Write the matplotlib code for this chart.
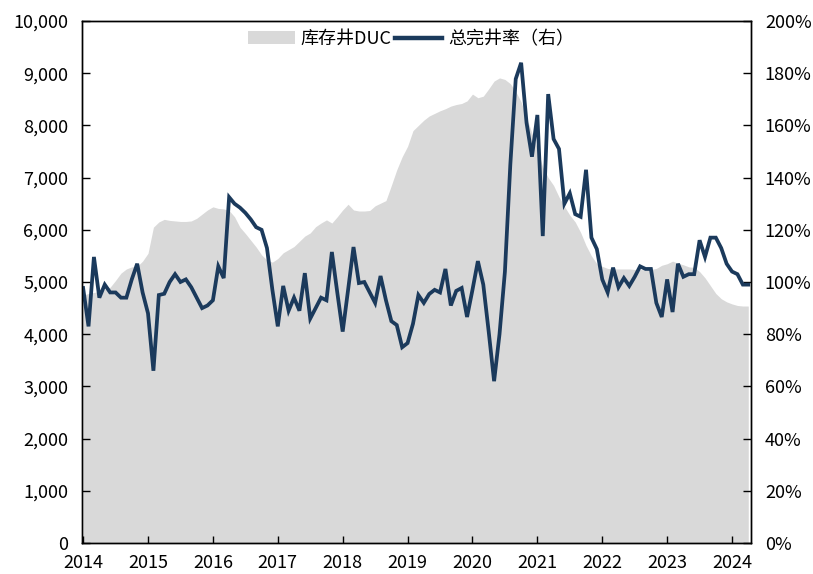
import numpy as np
import pandas as pd
import matplotlib
matplotlib.use("Agg")
import matplotlib.pyplot as plt
from matplotlib.patches import Patch
from matplotlib.lines import Line2D

plt.rcParams['font.family'] = ['Noto Sans CJK SC', 'DejaVu Sans']

# Monthly data, Jan 2014 - Apr 2024
months = pd.date_range("2014-01-01", "2024-04-01", freq="MS")

# DUC inventory (wells), left axis
duc = [
    4750, 4780, 4800, 4820, 4860, 4900, 5030, 5170, 5250, 5290, 5300, 5400,   # 2014
    5550, 6050, 6150, 6200, 6180, 6170, 6160, 6160, 6170, 6220, 6300, 6380,   # 2015
    6440, 6410, 6400, 6370, 6250, 6050, 5930, 5800, 5670, 5520, 5420, 5380,   # 2016
    5450, 5560, 5620, 5680, 5780, 5880, 5940, 6060, 6130, 6190, 6130, 6250,   # 2017
    6380, 6490, 6380, 6360, 6360, 6370, 6460, 6510, 6560, 6850, 7150, 7400,   # 2018
    7600, 7900, 8000, 8100, 8180, 8230, 8280, 8320, 8370, 8400, 8420, 8470,   # 2019
    8600, 8530, 8560, 8700, 8850, 8910, 8880, 8800, 8650, 8450, 8150, 7850,   # 2020
    7550, 7200, 7000, 6850, 6630, 6450, 6280, 6150, 5950, 5700, 5500, 5350,   # 2021
    5300, 5260, 5250, 5250, 5250, 5250, 5240, 5240, 5230, 5240, 5260, 5320,   # 2022
    5350, 5400, 5360, 5330, 5290, 5280, 5200, 5080, 4930, 4780, 4680, 4620,   # 2023
    4580, 4550, 4540, 4540,                                                   # 2024
]

# total completion ratio (%), right axis
completion = [
    97.7, 83.0, 109.6, 94.0, 99.0, 96.0, 96.0, 94.0, 94.0, 101.0, 107.0, 96.0,
    88.0, 66.0, 95.0, 95.5, 100.0, 103.0, 100.0, 101.0, 98.0, 94.0, 90.0, 91.0,
    93.0, 106.0, 101.5, 132.5, 130.0, 128.5, 126.5, 124.0, 121.0, 120.0, 113.0, 97.0,
    83.0, 98.5, 89.0, 94.0, 89.0, 103.4, 86.0, 90.0, 94.0, 93.0, 111.5, 96.0,
    81.0, 97.0, 113.4, 99.6, 100.0, 96.0, 92.0, 102.3, 93.0, 85.0, 83.5, 75.0,
    76.6, 84.0, 95.0, 92.0, 95.4, 97.0, 96.0, 105.0, 91.0, 96.6, 97.7, 86.6,
    97.0, 108.0, 99.0, 81.0, 62.0, 80.0, 104.0, 145.0, 177.8, 184.0, 161.0, 148.0,
    164.0, 117.6, 172.0, 154.8, 151.0, 130.0, 134.0, 126.0, 125.0, 143.0, 117.0, 112.6,
    101.0, 96.0, 105.5, 98.0, 101.5, 98.5, 102.0, 106.0, 105.0, 105.0, 92.0, 86.6,
    101.0, 88.5, 107.0, 102.0, 103.0, 103.0, 116.0, 109.6, 117.0, 117.0, 113.0, 107.0,
    104.0, 103.0, 99.0, 99.0,
]

year_labels = [str(y) for y in range(2014, 2025)]

GRAY = "#d9d9d9"
NAVY = "#1b3a5c"

x = np.arange(len(months))

fig = plt.figure(figsize=(8.13, 5.74), dpi=100)
ax = fig.add_axes([0.1009, 0.054, 0.8228, 0.9094])
ax2 = ax.twinx()

ax.fill_between(x, 0, duc, color=GRAY, linewidth=0)
ax2.plot(x, completion, color=NAVY, linewidth=2.7, solid_joinstyle="miter")

ax.set_xlim(-0.2, 123.5)
ax.set_ylim(0, 10000)
ax2.set_ylim(0, 200)

ax.set_xticks(np.arange(0, 121, 12))
ax.set_xticklabels(year_labels)
ax.set_yticks(np.arange(0, 10001, 1000))
ax.set_yticklabels([f"{v:,}" for v in range(0, 10001, 1000)])
ax2.set_yticks(np.arange(0, 201, 20))
ax2.set_yticklabels([f"{v}%" for v in range(0, 201, 20)])

ax.tick_params(axis="x", direction="in", length=5, width=1, pad=8, labelsize=13)
ax.tick_params(axis="y", direction="in", length=6, width=1, pad=10, labelsize=13)
ax2.tick_params(axis="y", direction="in", length=6, width=1, pad=10, labelsize=13)

for a in (ax, ax2):
    for s in a.spines.values():
        s.set_color("black")
        s.set_linewidth(1)

handles = [Patch(facecolor=GRAY, edgecolor="none"),
           Line2D([0], [0], color=NAVY, linewidth=3.2)]
ax2.legend(handles, ["库存井DUC", "总完井率（右）"], loc="upper center",
           bbox_to_anchor=(0.492, 1.0), ncol=2, frameon=False, fontsize=13,
           handlelength=2.6, handletextpad=0.3, columnspacing=0.2,
           borderaxespad=0.1)

fig.savefig("out.png", dpi=100)
